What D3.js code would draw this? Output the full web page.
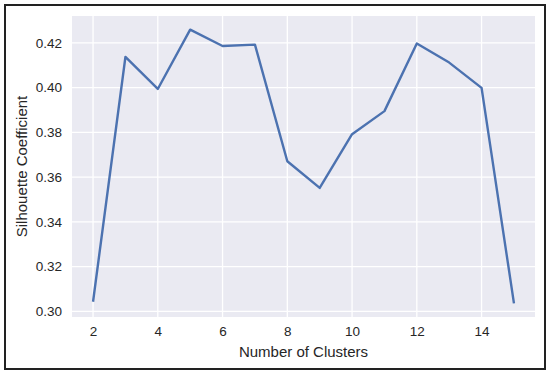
<!DOCTYPE html>
<html lang="en">
<head>
<meta charset="utf-8">
<title>Silhouette Coefficient</title>
<script src="https://d3js.org/d3.v7.min.js"></script>
<style>
  body { margin: 0; background: #fff; }
  .frame { fill: none; stroke: #222; stroke-width: 2; }
  .tick text { font: 13.5px "Liberation Sans", Arial, sans-serif; fill: #262626; }
  .axis-label { font: 15px "Liberation Sans", Arial, sans-serif; fill: #262626; }
</style>
</head>
<body>
<svg class="canvas"></svg>
<script>
// number of clusters tried
var clusters = [2, 3, 4, 5, 6, 7, 8, 9, 10, 11, 12, 13, 14, 15];
// silhouette score for each
var silhouette = [0.3043, 0.4137, 0.3994, 0.4259, 0.4186, 0.4192, 0.3671, 0.3552,
                  0.3792, 0.3895, 0.4197, 0.4112, 0.3999, 0.3036];
var xTicks = [2, 4, 6, 8, 10, 12, 14];
var yTicks = [0.30, 0.32, 0.34, 0.36, 0.38, 0.40, 0.42];

(function () {
  var width = 550, height = 375;
  var plot = {left: 72, top: 16, right: 535, bottom: 317};

  var svg = d3.select('.canvas').attr('width', width).attr('height', height);

  svg.append('rect').attr('class', 'frame')
    .attr('x', 5).attr('y', 5).attr('width', 540).attr('height', 364);

  // matplotlib-ish 5% margins
  var xe = d3.extent(clusters), ye = d3.extent(silhouette);
  var xm = (xe[1] - xe[0]) * 0.05, ym = (ye[1] - ye[0]) * 0.05;
  var x = d3.scaleLinear().domain([xe[0] - xm, xe[1] + xm]).range([plot.left, plot.right]);
  var y = d3.scaleLinear().domain([ye[0] - ym, ye[1] + ym]).range([plot.bottom, plot.top]);

  svg.append('rect')
    .attr('x', plot.left).attr('y', plot.top)
    .attr('width', plot.right - plot.left).attr('height', plot.bottom - plot.top)
    .attr('fill', '#EAEAF2');

  var grid = svg.append('g').attr('stroke', '#fff').attr('stroke-width', 1.3);
  grid.selectAll('.vx').data(xTicks).enter().append('line')
    .attr('x1', function(d){ return x(d); }).attr('x2', function(d){ return x(d); })
    .attr('y1', plot.top).attr('y2', plot.bottom);
  grid.selectAll('.hy').data(yTicks).enter().append('line')
    .attr('y1', function(d){ return y(d); }).attr('y2', function(d){ return y(d); })
    .attr('x1', plot.left).attr('x2', plot.right);

  var xAxis = svg.append('g').attr('transform', 'translate(0,' + plot.bottom + ')')
    .call(d3.axisBottom(x).tickValues(xTicks).tickSize(0).tickPadding(9).tickFormat(d3.format('d')));
  xAxis.select('.domain').remove();

  var yAxis = svg.append('g').attr('transform', 'translate(' + plot.left + ',0)')
    .call(d3.axisLeft(y).tickValues(yTicks).tickSize(0).tickPadding(10).tickFormat(d3.format('.2f')));
  yAxis.select('.domain').remove();

  var line = d3.line()
    .x(function(d, i){ return x(clusters[i]); })
    .y(function(d){ return y(d); });

  svg.append('path').datum(silhouette)
    .attr('d', line)
    .attr('fill', 'none')
    .attr('stroke', '#4C72B0')
    .attr('stroke-width', 2.4)
    .attr('stroke-linejoin', 'round');

  svg.append('text').attr('class', 'axis-label')
    .attr('x', (plot.left + plot.right) / 2).attr('y', 357)
    .attr('text-anchor', 'middle')
    .text('Number of Clusters');

  svg.append('text').attr('class', 'axis-label')
    .attr('transform', 'translate(27,' + (plot.top + plot.bottom) / 2 + ') rotate(-90)')
    .attr('text-anchor', 'middle')
    .text('Silhouette Coefficient');
})();
</script>
</body>
</html>
